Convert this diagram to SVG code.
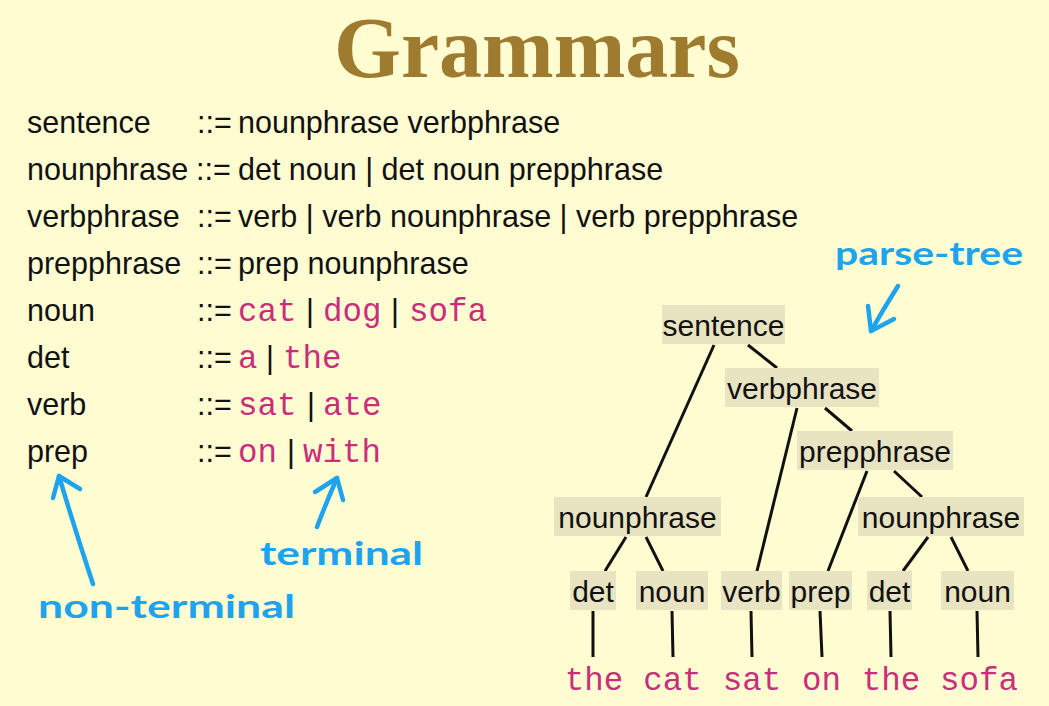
<svg xmlns="http://www.w3.org/2000/svg" width="1049" height="706" viewBox="0 0 1049 706">
  <style>
    .bg { fill: #fffcd2; }
    .title { font-family: "Liberation Serif", serif; font-weight: bold; font-size: 86px; fill: #9e7b2f; }
    .nt { font-family: "Liberation Sans", sans-serif; font-size: 30.5px; fill: #111; }
    .tm { font-family: "Liberation Mono", monospace; font-size: 32.5px; fill: #c92e7c; }
    .box { fill: #e8e3c1; }
    .lbl { font-family: "Liberation Sans", sans-serif; font-size: 30px; fill: #111; text-anchor: middle; }
    .edge { stroke: #111; stroke-width: 3; stroke-linecap: butt; fill: none; }
    .hand { font-family: "Lato", "DejaVu Sans", sans-serif; font-weight: bold; font-size: 33px; fill: #1ea3ee; }
    .harrow { stroke: #1ea3ee; stroke-width: 4.5; stroke-linecap: round; stroke-linejoin: round; fill: none; }
  </style>

  <rect class="bg" x="0" y="0" width="1049" height="706"/>

  <text class="title" x="537" y="77" text-anchor="middle">Grammars</text>

  <!-- grammar rules -->
  <g id="rules">
    <g id="rule-sentence">
      <text class="nt" x="27" y="133">sentence</text>
      <text class="nt" x="197" y="133">::=</text>
      <text class="nt" x="238" y="133">nounphrase verbphrase</text>
    </g>
    <g id="rule-nounphrase">
      <text class="nt" x="27" y="180">nounphrase</text>
      <text class="nt" x="196" y="180">::=</text>
      <text class="nt" x="238" y="180">det noun | det noun prepphrase</text>
    </g>
    <g id="rule-verbphrase">
      <text class="nt" x="27" y="227">verbphrase</text>
      <text class="nt" x="197" y="227">::=</text>
      <text class="nt" x="238" y="227">verb | verb nounphrase | verb prepphrase</text>
    </g>
    <g id="rule-prepphrase">
      <text class="nt" x="27" y="274">prepphrase</text>
      <text class="nt" x="197" y="274">::=</text>
      <text class="nt" x="238" y="274">prep nounphrase</text>
    </g>
    <g id="rule-noun">
      <text class="nt" x="27" y="321">noun</text>
      <text class="nt" x="197" y="321">::=</text>
      <text class="tm" x="238" y="321">cat</text>
      <text class="nt" x="306" y="321">|</text>
      <text class="tm" x="323" y="321">dog</text>
      <text class="nt" x="391" y="321">|</text>
      <text class="tm" x="409" y="321">sofa</text>
    </g>
    <g id="rule-det">
      <text class="nt" x="27" y="368">det</text>
      <text class="nt" x="197" y="368">::=</text>
      <text class="tm" x="238" y="368">a</text>
      <text class="nt" x="266" y="368">|</text>
      <text class="tm" x="283" y="368">the</text>
    </g>
    <g id="rule-verb">
      <text class="nt" x="27" y="415">verb</text>
      <text class="nt" x="197" y="415">::=</text>
      <text class="tm" x="238" y="415">sat</text>
      <text class="nt" x="307" y="415">|</text>
      <text class="tm" x="323" y="415">ate</text>
    </g>
    <g id="rule-prep">
      <text class="nt" x="27" y="462">prep</text>
      <text class="nt" x="197" y="462">::=</text>
      <text class="tm" x="238" y="462">on</text>
      <text class="nt" x="287" y="462">|</text>
      <text class="tm" x="303" y="462">with</text>
    </g>
  </g>

  <!-- parse tree edges -->
  <g id="connectors">
    <line class="edge" x1="714" y1="345" x2="646" y2="497"/>
    <line class="edge" x1="748" y1="345" x2="777" y2="368"/>
    <line class="edge" x1="797" y1="408" x2="757" y2="571"/>
    <line class="edge" x1="825" y1="408" x2="852" y2="431"/>
    <line class="edge" x1="867" y1="471" x2="828" y2="571"/>
    <line class="edge" x1="894" y1="471" x2="922" y2="497"/>
    <line class="edge" x1="626" y1="537" x2="605" y2="571"/>
    <line class="edge" x1="646" y1="537" x2="663" y2="571"/>
    <line class="edge" x1="928" y1="537" x2="903" y2="571"/>
    <line class="edge" x1="951" y1="537" x2="968" y2="571"/>
    <line class="edge" x1="593" y1="611" x2="593" y2="657"/>
    <line class="edge" x1="672" y1="611" x2="673" y2="657"/>
    <line class="edge" x1="751" y1="611" x2="752" y2="657"/>
    <line class="edge" x1="820" y1="611" x2="822" y2="657"/>
    <line class="edge" x1="890" y1="611" x2="891" y2="657"/>
    <line class="edge" x1="977" y1="611" x2="978" y2="657"/>
  </g>

  <!-- parse tree nodes -->
  <g id="node-sentence">
    <rect class="box" x="662" y="305" width="123" height="39"/>
    <text class="lbl" x="723.5" y="336">sentence</text>
  </g>
  <g id="node-verbphrase">
    <rect class="box" x="725" y="368" width="154" height="39"/>
    <text class="lbl" x="802" y="399">verbphrase</text>
  </g>
  <g id="node-prepphrase">
    <rect class="box" x="797" y="431" width="156" height="39"/>
    <text class="lbl" x="875" y="462">prepphrase</text>
  </g>
  <g id="node-nounphrase-1">
    <rect class="box" x="554" y="497" width="167" height="39"/>
    <text class="lbl" x="637.5" y="528">nounphrase</text>
  </g>
  <g id="node-nounphrase-2">
    <rect class="box" x="858" y="497" width="166" height="39"/>
    <text class="lbl" x="941" y="528">nounphrase</text>
  </g>
  <g id="node-det-1">
    <rect class="box" x="570" y="571" width="46" height="39"/>
    <text class="lbl" x="593" y="602">det</text>
  </g>
  <g id="node-noun-1">
    <rect class="box" x="636" y="571" width="72" height="39"/>
    <text class="lbl" x="672" y="602">noun</text>
  </g>
  <g id="node-verb">
    <rect class="box" x="721" y="571" width="61" height="39"/>
    <text class="lbl" x="751.5" y="602">verb</text>
  </g>
  <g id="node-prep">
    <rect class="box" x="789" y="571" width="63" height="39"/>
    <text class="lbl" x="820.5" y="602">prep</text>
  </g>
  <g id="node-det-2">
    <rect class="box" x="867" y="571" width="45" height="39"/>
    <text class="lbl" x="889.5" y="602">det</text>
  </g>
  <g id="node-noun-2">
    <rect class="box" x="941" y="571" width="73" height="39"/>
    <text class="lbl" x="977.5" y="602">noun</text>
  </g>

  <!-- leaves -->
  <g id="leaves">
    <text class="tm" x="594" y="690" text-anchor="middle">the</text>
    <text class="tm" x="672.5" y="690" text-anchor="middle">cat</text>
    <text class="tm" x="752" y="690" text-anchor="middle">sat</text>
    <text class="tm" x="821.5" y="690" text-anchor="middle">on</text>
    <text class="tm" x="891" y="690" text-anchor="middle">the</text>
    <text class="tm" x="979" y="690" text-anchor="middle">sofa</text>
  </g>

  <!-- hand-written annotations -->
  <g id="note-parse-tree">
    <text class="hand" x="835" y="265" textLength="188" lengthAdjust="spacingAndGlyphs">parse-tree</text>
    <path class="harrow" d="M898 286 Q884 308 871 331"/>
    <path class="harrow" d="M868 306 L871 331 L894 319"/>
  </g>
  <g id="note-terminal">
    <text class="hand" x="260" y="565" textLength="163" lengthAdjust="spacingAndGlyphs">terminal</text>
    <path class="harrow" d="M317 527 Q326 503 337 478"/>
    <path class="harrow" d="M315 492 L337 478 L343 500"/>
  </g>
  <g id="note-non-terminal">
    <text class="hand" x="38" y="618" textLength="257" lengthAdjust="spacingAndGlyphs">non-terminal</text>
    <path class="harrow" d="M93 584 Q75 530 59 476"/>
    <path class="harrow" d="M53 498 L59 476 L80 489"/>
  </g>
</svg>
